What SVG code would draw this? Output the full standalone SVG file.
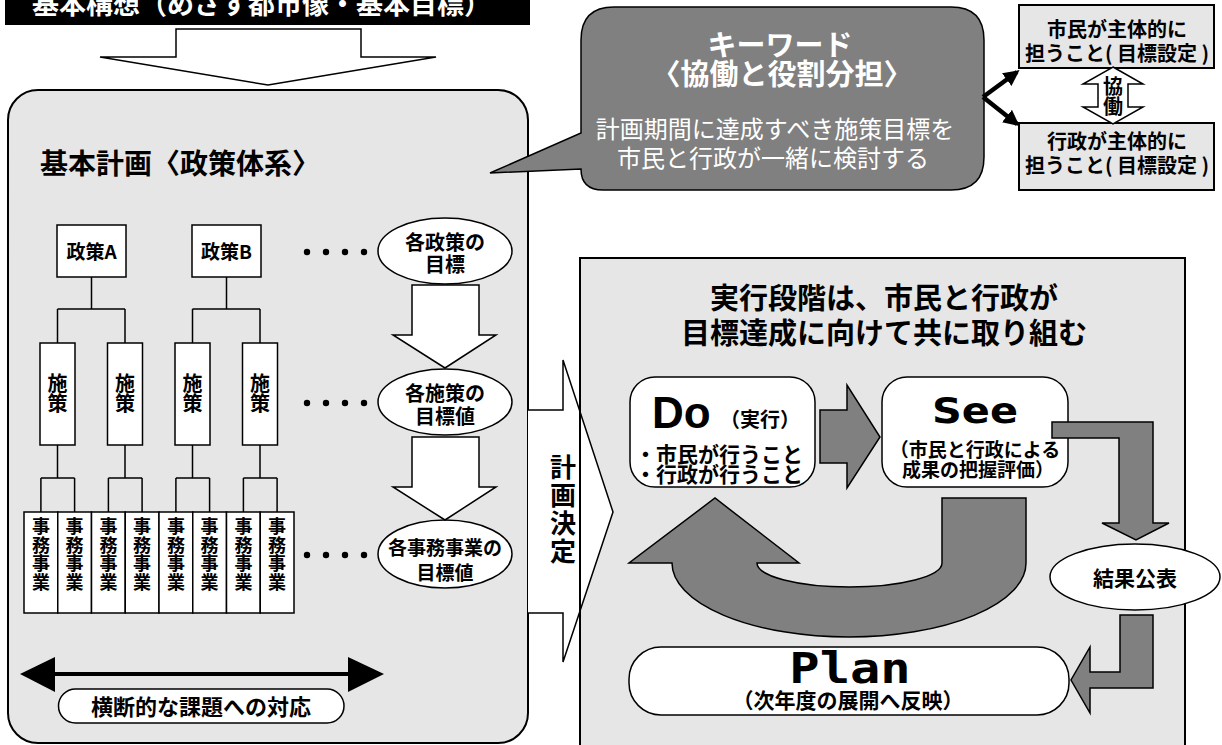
<svg xmlns="http://www.w3.org/2000/svg" width="1222" height="745" viewBox="0 0 1222 745">
<style>
.jp{font-family:"Noto Sans CJK JP","Noto Sans CJK SC",sans-serif;font-weight:bold}
.jn{font-family:"Noto Sans CJK JP","Noto Sans CJK SC",sans-serif;font-weight:normal}
.c{text-anchor:middle}
.panel{fill:#e6e6e6;stroke:#000;stroke-width:2}
.box{fill:#fff;stroke:#000;stroke-width:1.5}
.gbox{fill:#e6e6e6;stroke:#000;stroke-width:2}
.gray{fill:#808080;stroke:#000;stroke-width:1.5}
.ln{fill:none;stroke:#000;stroke-width:1.5}
.mono{font-family:"DejaVu Sans Mono","Liberation Mono",monospace;font-weight:bold}
.sans{font-family:"DejaVu Sans","Liberation Sans",sans-serif;font-weight:bold}
</style>
<defs>
<marker id="ah" viewBox="0 0 10 10" refX="8" refY="5" markerWidth="16" markerHeight="16" markerUnits="userSpaceOnUse" orient="auto">
<path d="M0,0 L10,5 L0,10 z" fill="#000"/>
</marker>
</defs>
<rect width="1222" height="745" fill="#fff"/>

<g id="title">
<rect x="5" y="-5" width="525" height="30" fill="#000"/>
<text class="jp" x="32" y="14" font-size="27" fill="#fff">基本構想（めざす都市像・基本目標）</text>
</g>

<g id="left-panel">
<rect class="panel" x="8" y="90" width="520" height="653" rx="30"/>
<text class="jp" x="40" y="174" font-size="28">基本計画〈政策体系〉</text>
</g>

<g id="right-panel-bg">
<rect x="580" y="258" width="605" height="500" fill="#e6e6e6"/>
</g>

<g id="keikaku-kettei">
<path d="M528,410 H563 V360 L613,512 L563,662 V613 H528" fill="#fff" stroke="#000" stroke-width="1.5"/>
<text class="jp c" font-size="26"><tspan x="563" y="477">計</tspan><tspan x="563" y="505">画</tspan><tspan x="563" y="533">決</tspan><tspan x="563" y="561">定</tspan></text>
</g>

<g id="right-panel">
<rect x="580" y="258" width="605" height="500" fill="none" stroke="#000" stroke-width="2"/>
<text class="jp c" x="884" y="309" font-size="29">実行段階は、市民と行政が</text>
<text class="jp c" x="884" y="344" font-size="29">目標達成に向けて共に取り組む</text>
</g>

<g id="keyword">
<path class="gray" d="M614,7 H951 Q984,7 984,40 V157 Q984,190 951,190 H603 Q581,190 581,169 L490,173 L581,133 V40 Q581,7 614,7 Z" stroke-width="2"/>
<text class="jp c" x="780" y="56" font-size="29" fill="#fff">キーワード</text>
<text class="jp c" x="782" y="85" font-size="29" fill="#fff">〈協働と役割分担〉</text>
<text class="jn c" x="775" y="138" font-size="24" fill="#fff">計画期間に達成すべき施策目標を</text>
<text class="jn c" x="773" y="167" font-size="24" fill="#fff">市民と行政が一緒に検討する</text>
</g>

<g id="role-citizen">
<rect class="gbox" x="1019" y="5" width="195" height="63"/>
<text class="jp c" x="1117" y="37" font-size="20">市民が主体的に</text>
<text class="jp c" x="1117" y="61" font-size="20">担うこと( 目標設定 )</text>
</g>

<g id="role-admin">
<rect class="gbox" x="1019" y="123" width="195" height="67"/>
<text class="jp c" x="1117" y="149" font-size="20">行政が主体的に</text>
<text class="jp c" x="1117" y="173" font-size="20">担うこと( 目標設定 )</text>
</g>

<g id="kyodo">
<polygon class="box" points="1113,67 1143,84 1128,84 1128,107 1143,107 1113,124 1083,107 1098,107 1098,84 1083,84"/>
<text class="jp c" font-size="20"><tspan x="1113" y="94">協</tspan><tspan x="1113" y="114">働</tspan></text>
</g>

<g id="seisaku-a">
<rect class="box" x="57" y="225" width="69" height="52"/>
<text class="jp c" x="91.5" y="259" font-size="19">政策A</text>
</g>
<g id="seisaku-b">
<rect class="box" x="192" y="225" width="69" height="52"/>
<text class="jp c" x="226.5" y="259" font-size="19">政策B</text>
</g>

<g id="shisaku">
<rect class="box" x="40" y="343" width="35" height="102"/>
<rect class="box" x="107.5" y="343" width="35" height="102"/>
<rect class="box" x="175" y="343" width="35" height="102"/>
<rect class="box" x="242.5" y="343" width="35" height="102"/>
<text class="jp c" font-size="20"><tspan x="57.5" y="391">施</tspan><tspan x="57.5" y="411">策</tspan></text>
<text class="jp c" font-size="20"><tspan x="125" y="391">施</tspan><tspan x="125" y="411">策</tspan></text>
<text class="jp c" font-size="20"><tspan x="192.5" y="391">施</tspan><tspan x="192.5" y="411">策</tspan></text>
<text class="jp c" font-size="20"><tspan x="260" y="391">施</tspan><tspan x="260" y="411">策</tspan></text>
</g>

<g id="jimu-jigyo">
<rect class="box" x="24" y="512" width="33.75" height="101"/>
<rect class="box" x="57.75" y="512" width="33.75" height="101"/>
<rect class="box" x="91.5" y="512" width="33.75" height="101"/>
<rect class="box" x="125.25" y="512" width="33.75" height="101"/>
<rect class="box" x="159" y="512" width="33.75" height="101"/>
<rect class="box" x="192.75" y="512" width="33.75" height="101"/>
<rect class="box" x="226.5" y="512" width="33.75" height="101"/>
<rect class="box" x="260.25" y="512" width="33.75" height="101"/>
<text class="jp c" font-size="18"><tspan x="40.9" y="533">事</tspan><tspan x="40.9" y="551.5">務</tspan><tspan x="40.9" y="570">事</tspan><tspan x="40.9" y="588.5">業</tspan></text>
<text class="jp c" font-size="18"><tspan x="74.6" y="533">事</tspan><tspan x="74.6" y="551.5">務</tspan><tspan x="74.6" y="570">事</tspan><tspan x="74.6" y="588.5">業</tspan></text>
<text class="jp c" font-size="18"><tspan x="108.4" y="533">事</tspan><tspan x="108.4" y="551.5">務</tspan><tspan x="108.4" y="570">事</tspan><tspan x="108.4" y="588.5">業</tspan></text>
<text class="jp c" font-size="18"><tspan x="142.1" y="533">事</tspan><tspan x="142.1" y="551.5">務</tspan><tspan x="142.1" y="570">事</tspan><tspan x="142.1" y="588.5">業</tspan></text>
<text class="jp c" font-size="18"><tspan x="175.9" y="533">事</tspan><tspan x="175.9" y="551.5">務</tspan><tspan x="175.9" y="570">事</tspan><tspan x="175.9" y="588.5">業</tspan></text>
<text class="jp c" font-size="18"><tspan x="209.6" y="533">事</tspan><tspan x="209.6" y="551.5">務</tspan><tspan x="209.6" y="570">事</tspan><tspan x="209.6" y="588.5">業</tspan></text>
<text class="jp c" font-size="18"><tspan x="243.4" y="533">事</tspan><tspan x="243.4" y="551.5">務</tspan><tspan x="243.4" y="570">事</tspan><tspan x="243.4" y="588.5">業</tspan></text>
<text class="jp c" font-size="18"><tspan x="277.1" y="533">事</tspan><tspan x="277.1" y="551.5">務</tspan><tspan x="277.1" y="570">事</tspan><tspan x="277.1" y="588.5">業</tspan></text>
</g>

<g id="goal-policy">
<ellipse class="box" cx="445" cy="251" rx="67" ry="33"/>
<text class="jp c" x="445" y="250" font-size="20">各政策の</text>
<text class="jp c" x="445" y="272" font-size="20">目標</text>
</g>
<g id="goal-measure">
<ellipse class="box" cx="445" cy="402" rx="67" ry="33"/>
<text class="jp c" x="445" y="401" font-size="20">各施策の</text>
<text class="jp c" x="445" y="424" font-size="20">目標値</text>
</g>
<g id="goal-project">
<ellipse class="box" cx="445" cy="554" rx="67" ry="34"/>
<text class="jp c" x="445" y="555" font-size="19">各事務事業の</text>
<text class="jp c" x="445" y="580" font-size="19">目標値</text>
</g>

<g id="cross-cutting">
<line x1="50" y1="674" x2="352" y2="674" stroke="#000" stroke-width="4"/>
<polygon points="20,674 55,657 55,692" fill="#000"/>
<polygon points="384,674 348,657 348,692" fill="#000"/>
<rect class="box" x="58.5" y="689" width="285.5" height="34" rx="17"/>
<text class="jp c" x="201" y="715" font-size="22">横断的な課題への対応</text>
</g>

<g id="do">
<rect class="box" x="630" y="377" width="185" height="110" rx="25"/>
<text x="652" y="428" font-family="Liberation Sans, Arial, sans-serif" font-weight="bold" font-size="44">Do</text>
<text class="jp" x="720" y="427" font-size="20">（実行）</text>
<text class="jp" x="635" y="462" font-size="21">・市民が行うこと</text>
<text class="jp" x="635" y="482" font-size="21">・行政が行うこと</text>
</g>

<g id="see">
<rect class="box" x="882" y="377" width="186" height="110" rx="25"/>
<text class="sans c" transform="translate(975,423) scale(1.15,1)" font-size="36">See</text>
<text class="jp c" x="975" y="457" font-size="19">（市民と行政による</text>
<text class="jp c" x="978" y="477" font-size="19">成果の把握評価）</text>
</g>

<g id="kekka">
<ellipse class="box" cx="1135" cy="577" rx="85" ry="33"/>
<text class="jp c" x="1135" y="586" font-size="21">結果公表</text>
</g>

<g id="plan">
<rect class="box" x="629" y="647" width="440" height="68" rx="32"/>
<text class="mono c" transform="translate(850,683) scale(1.2,1)" font-size="42">Plan</text>
<text class="jp c" x="848" y="708" font-size="21">（次年度の展開へ反映）</text>
</g>

<g id="connectors">
<polygon points="176,29 361,29 361,57 436,57 268,85 100,57 176,57" fill="#fff" stroke="#000" stroke-width="1.5"/>
<line x1="983" y1="97" x2="1017" y2="72" stroke="#000" stroke-width="4.5" marker-end="url(#ah)"/>
<line x1="983" y1="97" x2="1017" y2="124" stroke="#000" stroke-width="4.5" marker-end="url(#ah)"/>
<path class="ln" d="M91.5,277 V309 M57.5,309 H125 M57.5,309 V343 M125,309 V343"/>
<path class="ln" d="M226.5,277 V309 M192.5,309 H260 M192.5,309 V343 M260,309 V343"/>
<path class="ln" d="M57.5,445 V478 M40.9,478 H74.6 M40.9,478 V512 M74.6,478 V512"/>
<path class="ln" d="M125,445 V478 M108.4,478 H142.1 M108.4,478 V512 M142.1,478 V512"/>
<path class="ln" d="M192.5,445 V478 M175.9,478 H209.6 M175.9,478 V512 M209.6,478 V512"/>
<path class="ln" d="M260,445 V478 M243.4,478 H277.1 M243.4,478 V512 M277.1,478 V512"/>
<g fill="#000">
<circle cx="307" cy="252" r="3.2"/><circle cx="326" cy="252" r="3.2"/><circle cx="345" cy="252" r="3.2"/><circle cx="364" cy="252" r="3.2"/>
<circle cx="307" cy="403" r="3.2"/><circle cx="326" cy="403" r="3.2"/><circle cx="345" cy="403" r="3.2"/><circle cx="364" cy="403" r="3.2"/>
<circle cx="307" cy="555" r="3.2"/><circle cx="326" cy="555" r="3.2"/><circle cx="345" cy="555" r="3.2"/><circle cx="364" cy="555" r="3.2"/>
</g>
<polygon class="box" points="412,285 479,285 479,335 496,335 445,368 393,335 412,335"/>
<polygon class="box" points="412,437 479,437 479,487 496,487 445,520 393,487 412,487"/>
<polygon class="gray" points="820,410 847,410 847,385 880,437 847,488 847,463 820,463"/>
<path class="gray" d="M1026,498 V563 A177,74 0 0 1 672,563 H629 L715,498 L799,563 H757 A92.5,24 0 0 0 942,563 V498 Z"/>
<polygon class="gray" points="1052,422 1153,422 1153,523 1169,523 1136,540 1102,523 1119,523 1119,438 1052,438"/>
<polygon class="gray" points="1120,615 1153,615 1153,688 1090,688 1090,713 1071,680 1090,647 1090,672 1120,672"/>
</g>
</svg>
